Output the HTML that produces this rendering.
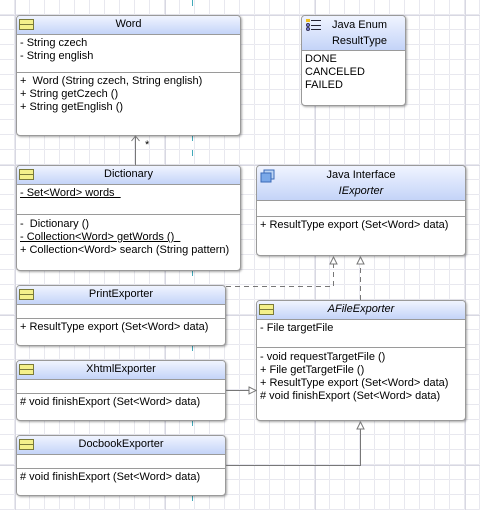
<!DOCTYPE html>
<html><head><style>
*{margin:0;padding:0;box-sizing:border-box}
body{width:480px;height:510px;overflow:hidden;background:#fff;position:relative;font-family:"Liberation Sans",sans-serif;font-size:11px;color:#000}
.b{position:absolute;background:#fff;border:1px solid #9a9a9a;border-radius:4px;box-shadow:1px 1px 2px rgba(0,0,0,.35);overflow:hidden}
.h{background:linear-gradient(#f0f4ff,#c4d4f8);border-bottom:1px solid #9a9a9a;text-align:center;position:relative;line-height:17px;padding-bottom:1px}
.s{border-bottom:1px solid #9a9a9a;padding:2px 0 0 3px;line-height:13px;white-space:nowrap}
.s:last-child{border-bottom:none}
.ic{position:absolute;left:2px;top:3px;width:15px;height:11px;background:#f4f08a;border:1px solid #7a7a3a}
.ic:after{content:"";position:absolute;left:0;right:0;top:4px;border-top:1px solid #7a7a3a}
u{text-decoration:underline}
</style></head><body>
<svg width="480" height="510" style="position:absolute;left:0;top:0">
<defs>
<pattern id="g" width="15" height="15" patternUnits="userSpaceOnUse" x="0" y="0"><path d="M15 0V15M0 15H15" stroke="#e8e8ef" stroke-width="1" fill="none" transform="translate(-0.5,-0.5)"/></pattern>
</defs>
<rect width="480" height="510" fill="url(#g)"/>
<g stroke="#d8d8e2" stroke-width="1">
<line x1="15.5" y1="0" x2="15.5" y2="510"/><line x1="165.5" y1="0" x2="165.5" y2="510"/><line x1="315.5" y1="0" x2="315.5" y2="510"/><line x1="465.5" y1="0" x2="465.5" y2="510"/>
<line x1="0" y1="15.5" x2="480" y2="15.5"/><line x1="0" y1="165.5" x2="480" y2="165.5"/><line x1="0" y1="315.5" x2="480" y2="315.5"/><line x1="0" y1="465.5" x2="480" y2="465.5"/>
</g>
<line x1="192.5" y1="0" x2="192.5" y2="510" stroke="#40a8b8" stroke-dasharray="6,9"/>
</svg>

<div class="b" style="left:16px;top:15px;width:225px;height:121px">
<div class="h"><div class="ic"></div>Word</div>
<div class="s" style="height:38px">- String czech<br>- String english</div>
<div class="s">+&nbsp; Word (String czech, String english)<br>+ String getCzech ()<br>+ String getEnglish ()</div>
</div>

<div class="b" style="left:16px;top:165px;width:225px;height:106px">
<div class="h"><div class="ic"></div>Dictionary</div>
<div class="s" style="height:30px"><u>- Set&lt;Word&gt; words&nbsp;&nbsp;</u></div>
<div class="s" style="padding-top:3px">-&nbsp; Dictionary ()<br><u>- Collection&lt;Word&gt; getWords ()&nbsp;&nbsp;</u><br>+ Collection&lt;Word&gt; search (String pattern)</div>
</div>

<div class="b" style="left:301px;top:15px;width:105px;height:91px">
<div class="h" style="height:35px;line-height:16px;padding-top:1px;padding-left:12px">Java Enum<br>ResultType
<svg style="position:absolute;left:4px;top:3px" width="16" height="12"><rect x="0" y="0" width="4" height="3" fill="#f0c020"/><rect x="5" y="1" width="10" height="1" fill="#223"/><circle cx="2" cy="6" r="1.5" fill="#88f" stroke="#335"/><rect x="5" y="6" width="10" height="1" fill="#223"/><circle cx="2" cy="10" r="1.5" fill="#88f" stroke="#335"/><rect x="5" y="10" width="10" height="1" fill="#223"/></svg></div>
<div class="s">DONE<br>CANCELED<br>FAILED</div>
</div>

<div class="b" style="left:256px;top:165px;width:210px;height:91px">
<div class="h" style="height:35px;line-height:16px;padding-top:1px">Java Interface<br><i>IExporter</i>
<svg style="position:absolute;left:3px;top:3px" width="16" height="14"><rect x="4" y="1" width="10" height="9" fill="#bcd4f4" stroke="#3a6ab8"/><rect x="1" y="4" width="10" height="9" fill="#7aa8e8" stroke="#3a6ab8"/></svg></div>
<div class="s" style="height:16px"></div>
<div class="s">+ ResultType export (Set&lt;Word&gt; data)</div>
</div>

<div class="b" style="left:256px;top:300px;width:210px;height:121px">
<div class="h"><div class="ic"></div><i>AFileExporter</i></div>
<div class="s" style="height:28px">- File targetFile</div>
<div class="s" style="padding-top:3px">- void requestTargetFile ()<br>+ File getTargetFile ()<br>+ ResultType export (Set&lt;Word&gt; data)<br># void finishExport (Set&lt;Word&gt; data)</div>
</div>

<div class="b" style="left:16px;top:285px;width:210px;height:61px">
<div class="h"><div class="ic"></div>PrintExporter</div>
<div class="s" style="height:14px"></div>
<div class="s">+ ResultType export (Set&lt;Word&gt; data)</div>
</div>
<div class="b" style="left:16px;top:360px;width:210px;height:61px">
<div class="h"><div class="ic"></div>XhtmlExporter</div>
<div class="s" style="height:14px"></div>
<div class="s"># void finishExport (Set&lt;Word&gt; data)</div>
</div>
<div class="b" style="left:16px;top:435px;width:210px;height:61px">
<div class="h"><div class="ic"></div>DocbookExporter</div>
<div class="s" style="height:14px"></div>
<div class="s"># void finishExport (Set&lt;Word&gt; data)</div>
</div>

<svg width="480" height="510" style="position:absolute;left:0;top:0;pointer-events:none" fill="none" stroke="#777">
<line x1="135.5" y1="165" x2="135.5" y2="137"/>
<path d="M131.5 141 L135.5 136 L139.5 141"/>
<text x="145" y="148" fill="#000" stroke="none" font-family="Liberation Sans" font-size="11">*</text>
<path d="M226 286.5 H333.5 V263" stroke-dasharray="5,4"/>
<path d="M330 264 L333.5 257 L337 264 Z" fill="#fff"/>
<path d="M360.5 300 V263" stroke-dasharray="5,4"/>
<path d="M357 264 L360.5 257 L364 264 Z" fill="#fff"/>
<path d="M226 390.5 H249"/>
<path d="M249 387 L256 390.5 L249 394 Z" fill="#fff"/>
<path d="M226 465.5 H360.5 V429"/>
<path d="M357 429 L360.5 422 L364 429 Z" fill="#fff"/>
</svg>
</body></html>
